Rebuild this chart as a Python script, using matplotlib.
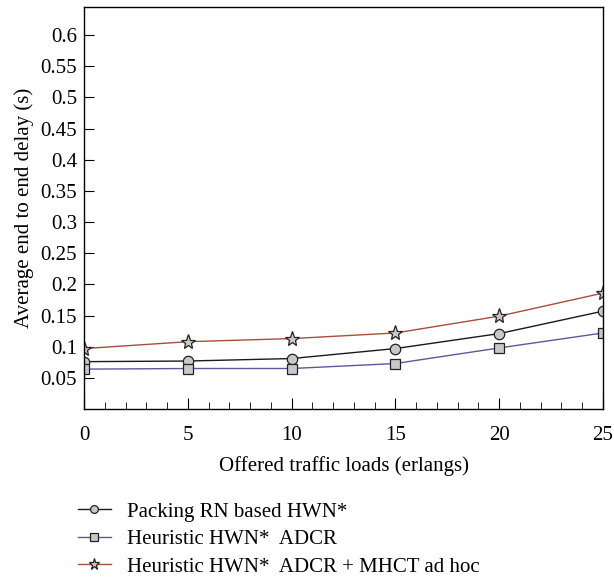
import numpy as np
import matplotlib.pyplot as plt
from matplotlib.ticker import MultipleLocator

## Donnees
loads = [0, 5, 10, 15, 20, 25]
packing = [0.076, 0.077, 0.081, 0.097, 0.121, 0.157]
adcr = [0.064, 0.065, 0.065, 0.073, 0.098, 0.122]
adcr_mhct = [0.097, 0.108, 0.113, 0.122, 0.149, 0.186]
yticks = [0.05, 0.1, 0.15, 0.2, 0.25, 0.3, 0.35, 0.4, 0.45, 0.5, 0.55, 0.6]
ylabels = ["0.05", "0.1", "0.15", "0.2", "0.25", "0.3", "0.35", "0.4", "0.45", "0.5", "0.55", "0.6"]

plt.rcParams['font.family'] = ['Liberation Serif', 'DejaVu Serif']
plt.rcParams['font.size'] = 15

fig = plt.figure(figsize=(6.14, 5.81), dpi=100)
ax = fig.add_axes([0.137, 0.296, 0.845, 0.692])

mk = dict(markerfacecolor="#c8c8c8", markeredgecolor="#222222", markeredgewidth=0.9, linewidth=1.0)
ax.plot(loads, packing, color="#1a1a1a", marker="o", markersize=7.5, label="Packing RN based HWN*", **mk)
ax.plot(loads, adcr, color="#5a5a9a", marker="s", markersize=7.5, label="Heuristic HWN*  ADCR", **mk)
ax.plot(loads, adcr_mhct, color="#a5503a", marker="*", markersize=11, label="Heuristic HWN*  ADCR + MHCT ad hoc", **mk)

ax.set_xlim(0, 25)
ax.set_ylim(0, 0.645)
ax.set_xticks(loads)
ax.xaxis.set_minor_locator(MultipleLocator(1))
ax.set_yticks(yticks)
ax.set_yticklabels(ylabels)
ax.tick_params(axis="x", which="major", direction="in", length=8, top=False, pad=12)
ax.tick_params(axis="x", which="minor", direction="in", length=5, top=False)
ax.tick_params(axis="y", direction="in", length=7, right=False, pad=5)
for s in ax.spines.values():
    s.set_linewidth(1.0)

ax.set_xlabel("Offered traffic loads (erlangs)", labelpad=8)
ax.set_ylabel("Average end to end delay (s)", labelpad=5)

fig.legend(loc="upper left", bbox_to_anchor=(0.113, 0.15), frameon=False, markerscale=0.75,
           handlelength=1.6, labelspacing=0.38, handletextpad=0.75, borderaxespad=0)

fig.savefig("out.png", dpi=100)
